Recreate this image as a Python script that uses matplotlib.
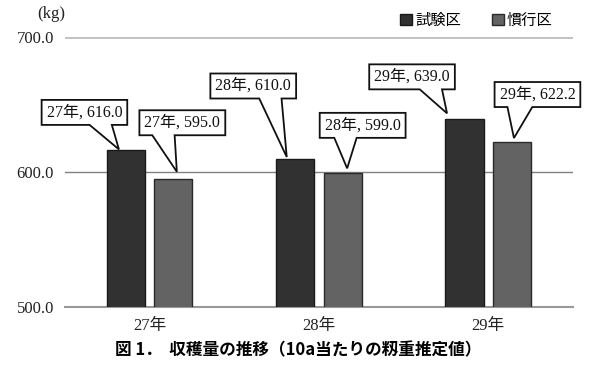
import numpy as np
import matplotlib
matplotlib.use('Agg')
import matplotlib.pyplot as plt
from matplotlib.patches import Polygon
from matplotlib.transforms import IdentityTransform

plt.rcParams['font.family'] = ['Liberation Serif', 'Noto Sans CJK JP']

# data
years = ['27年', '28年', '29年']
test_plot = [616.0, 610.0, 639.0]      # 試験区
usual_plot = [595.0, 599.0, 622.2]     # 慣行区
series_names = ['試験区', '慣行区']
yticks = [500.0, 600.0, 700.0]

# callout layout (pixels): tip shift from bar top centre, box centre from tip, pointer base on box bottom
tip_test = [(-7, 1), (-8.5, 1.5), (-17.5, 6)]
tip_usual = [(3.5, 7), (4.5, 5), (2, 4)]
box_test = [(-34.5, 37), (-33.5, 71), (-35, 36.5)]
box_usual = [(5.5, 49), (15.5, 43), (23.5, 43.5)]
base_test = [(0.56, 0.82), (0.57, 0.83), (0.59, 0.85)]
base_usual = [(0.15, 0.41), (0.17, 0.43), (0.15, 0.44)]

fig = plt.figure(figsize=(5.93, 3.76), dpi=100)
ax = fig.add_axes([0.1096, 0.1835, 0.8565, 0.7181])

x = np.arange(len(years))
w = 0.225
b1 = ax.bar(x - 0.14, test_plot, w, color='#313131', edgecolor='#1a1a1a', linewidth=1, zorder=3,
            label=series_names[0])
b2 = ax.bar(x + 0.14, usual_plot, w, color='#636363', edgecolor='#2a2a2a', linewidth=1, zorder=3,
            label=series_names[1])

ax.set_ylim(500, 700)
ax.set_xlim(-0.5, 2.5)
ax.set_yticks(yticks)
ax.set_yticklabels(['%.1f' % v for v in yticks], fontsize=12)
ax.set_xticks(x)
ax.set_xticklabels(years, fontsize=12)
ax.tick_params(length=0, pad=8, colors='#222222')
for s in ['left', 'right', 'top']:
    ax.spines[s].set_visible(False)
ax.spines['bottom'].set_color('#999999')
ax.spines['bottom'].set_linewidth(1.5)

ax.grid(axis='y', zorder=0)
gl = ax.get_ygridlines()
gl[0].set_visible(False)
gl[1].set_color('#808080')
gl[1].set_linewidth(1.0)
gl[2].set_color('#c0c0c0')
gl[2].set_linewidth(2.0)

renderer = fig.canvas.get_renderer()


def callout(xp, v, label, tip, box, base):
    bx, by = ax.transData.transform((xp, v))
    tx, ty = bx + tip[0], by + tip[1]
    cx, cy = tx + box[0], ty + box[1]
    t = fig.text(cx, cy, label, transform=IdentityTransform(), ha='center', va='center',
                 fontsize=11.5, color='#111111', zorder=6)
    ext = t.get_window_extent(renderer)
    hw = ext.width / 2 + 5
    hh = 12.5
    x0, x1 = cx - hw, cx + hw
    y0, y1 = cy - hh, cy + hh
    p0 = x0 + (x1 - x0) * base[0]
    p1 = x0 + (x1 - x0) * base[1]
    pts = [(x0, y0), (p0, y0), (tx, ty), (p1, y0), (x1, y0), (x1, y1), (x0, y1)]
    fig.add_artist(Polygon(pts, closed=True, fc='white', ec='#111111', lw=1.3,
                           transform=IdentityTransform(), zorder=5))


for i in range(len(years)):
    callout(x[i] - 0.14, test_plot[i], '%s, %.1f' % (years[i], test_plot[i]),
            tip_test[i], box_test[i], base_test[i])
    callout(x[i] + 0.14, usual_plot[i], '%s, %.1f' % (years[i], usual_plot[i]),
            tip_usual[i], box_usual[i], base_usual[i])

fig.text(0.062, 0.962, '(kg)', fontsize=12, ha='left', va='center', color='#222222')

fig.legend(handles=[b1, b2], loc='upper right', bbox_to_anchor=(0.955, 1.005), ncol=2,
           frameon=False, handlelength=0.8, handleheight=0.8, handletextpad=0.2,
           columnspacing=2.0, prop={'family': ['Noto Sans CJK JP'], 'size': 11})

fig.text(0.503, 0.068, '図 1．  収穫量の推移（10a当たりの籾重推定値）', ha='center', va='center',
         fontsize=12, fontweight='bold', family=['Noto Sans CJK JP', 'DejaVu Sans'])

fig.savefig('out.png', dpi=100)
